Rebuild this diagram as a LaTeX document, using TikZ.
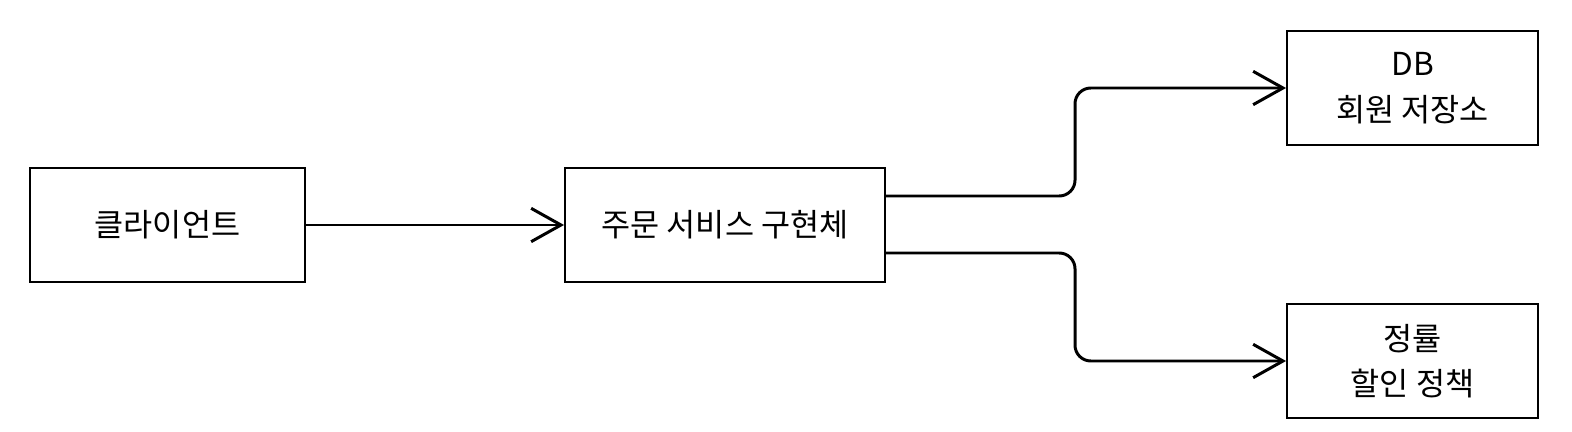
\documentclass[tikz,border=0pt]{standalone}
\usepackage{fontspec}
\setmainfont{Noto Sans CJK KR}
\usetikzlibrary{arrows.meta}
\tikzset{
  box/.style={draw,line width=1.1pt,minimum width=5.5cm,minimum height=2.28cm,align=center,font=\fontsize{18}{26}\selectfont},
  link/.style={line width=1.7pt,-{Straight Barb[length=17pt,width=19pt,line width=1.7pt]},rounded corners=9pt}
}
\begin{document}
\begin{tikzpicture}[x=0.02cm,y=-0.02cm]
\useasboundingbox (0,0) rectangle (1572,432);

\node [box] (client) at (167.5,225) {클라이언트};
\node [box,minimum width=6.4cm] (order) at (725,225) {주문 서비스 구현체};
\node [box,minimum width=5.02cm] (db) at (1412.5,88) {DB\\회원 저장소};
\node [box,minimum width=5.02cm] (policy) at (1412.5,361) {정률\\할인 정책};

\draw [link] (client) -- (order);
\draw [link] (order.east |- 0,196) -- (1075,196) -- (1075,88) -- (db.west);
\draw [link] (order.east |- 0,253) -- (1075,253) -- (1075,361) -- (policy.west);
\end{tikzpicture}
\end{document}
